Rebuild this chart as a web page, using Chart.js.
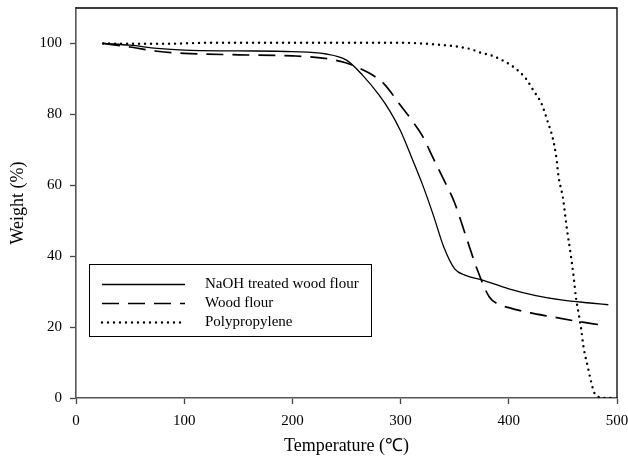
<!DOCTYPE html>
<html>
<head>
<meta charset="utf-8">
<script src="https://cdn.jsdelivr.net/npm/chart.js@4/dist/chart.umd.min.js"></script>
<style>
  html, body { margin: 0; padding: 0; background: #fff; }
  #c { display: block; }
</style>
</head>
<body>
<canvas id="c" width="628" height="466"></canvas>
<script>
// ---- data ----
const seriesNames = ["NaOH treated wood flour", "Wood flour", "Polypropylene"];

const tempNaOH = [25, 50, 75, 100, 150, 200, 230, 250, 265, 280, 290, 300, 310, 320, 330, 340, 350, 360, 375, 400, 425, 450, 475, 492];
const weightNaOH = [100, 99.5, 98.6, 98.1, 97.9, 97.7, 97.1, 95.3, 91.0, 85.5, 81.0, 75.3, 68.0, 60.4, 51.8, 42.5, 36.4, 34.6, 33.3, 30.8, 28.9, 27.6, 26.8, 26.3];

const tempWood = [25, 50, 75, 100, 150, 200, 230, 250, 260, 270, 284, 300, 310, 320, 330, 340, 350, 360, 371, 382, 390, 400, 420, 440, 460, 485];
const weightWood = [100, 99.0, 97.8, 97.2, 96.8, 96.5, 95.8, 94.5, 93.3, 91.8, 88.8, 82.5, 78.5, 74.0, 67.7, 61.5, 55.0, 46.0, 36.1, 28.5, 26.5, 25.5, 24.0, 22.9, 21.8, 20.6];

const tempPP = [25, 50, 80, 125, 200, 300, 337, 355, 366, 372, 385, 395, 406, 416, 423, 430, 436, 441, 444, 446, 450, 454, 457, 460, 462, 465, 467, 469, 473, 476, 479, 483, 487, 498];
const weightPP = [100, 99.9, 99.9, 100.2, 100.2, 100.2, 99.6, 99.0, 98.3, 97.6, 96.5, 95.1, 93.0, 90.0, 86.6, 83.2, 77.9, 72.8, 67.7, 62.4, 56.5, 47.0, 41.0, 34.0, 28.5, 23.0, 19.2, 14.5, 8.8, 4.7, 1.5, 0.3, 0, 0];

const xTickValues = [0, 100, 200, 300, 400, 500];
const yTickValues = [0, 20, 40, 60, 80, 100];

const toPoints = (xs, ys) => xs.map((x, i) => ({ x: x, y: ys[i] }));

const FONT = "'Liberation Serif', 'Times New Roman', serif";

const bgPlugin = {
  id: 'bg',
  beforeDraw(chart) {
    const ctx = chart.ctx;
    ctx.save();
    ctx.fillStyle = '#ffffff';
    ctx.fillRect(0, 0, chart.width, chart.height);
    ctx.restore();
  }
};

const framePlugin = {
  id: 'frame',
  afterDatasetsDraw(chart) {
    const { ctx, chartArea: a } = chart;
    ctx.save();
    ctx.strokeStyle = '#000';
    ctx.lineWidth = 1.3;
    ctx.beginPath();
    ctx.moveTo(a.left, a.top);
    ctx.lineTo(a.right, a.top);
    ctx.lineTo(a.right, a.bottom);
    ctx.stroke();
    ctx.restore();
  }
};

const boxLegend = {
  id: 'boxLegend',
  afterDraw(chart) {
    const { ctx, chartArea: a } = chart;
    const left = a.left + 13, top = a.top + 256, w = 282, h = 72;
    ctx.save();
    ctx.fillStyle = '#fff';
    ctx.fillRect(left, top, w, h);
    ctx.strokeStyle = '#000';
    ctx.lineWidth = 1;
    ctx.strokeRect(left + 0.5, top + 0.5, w, h);
    chart.data.datasets.forEach((ds, i) => {
      const y = top + 20 + i * 19;
      ctx.save();
      ctx.strokeStyle = ds.borderColor;
      ctx.lineWidth = Math.max(ds.borderWidth, 1.4);
      ctx.lineCap = ds.borderCapStyle || 'butt';
      ctx.setLineDash(ds.borderDash || []);
      ctx.beginPath();
      ctx.moveTo(left + 13, y + 0.5);
      ctx.lineTo(left + 96, y + 0.5);
      ctx.stroke();
      ctx.restore();
      ctx.fillStyle = '#000';
      ctx.font = '15px ' + FONT;
      ctx.textBaseline = 'middle';
      ctx.textAlign = 'left';
      ctx.fillText(ds.label, left + 116, y);
    });
    ctx.restore();
  }
};

new Chart(document.getElementById('c'), {
  type: 'line',
  data: {
    datasets: [
      {
        label: seriesNames[0],
        data: toPoints(tempNaOH, weightNaOH),
        borderColor: '#000',
        borderWidth: 1.3,
        borderDash: [],
        pointRadius: 0,
        cubicInterpolationMode: 'monotone',
        fill: false
      },
      {
        label: seriesNames[1],
        data: toPoints(tempWood, weightWood),
        borderColor: '#000',
        borderWidth: 1.7,
        borderDash: [17, 9],
        pointRadius: 0,
        cubicInterpolationMode: 'monotone',
        fill: false
      },
      {
        label: seriesNames[2],
        data: toPoints(tempPP, weightPP),
        borderColor: '#000',
        borderWidth: 2.4,
        borderDash: [0, 6],
        borderCapStyle: 'round',
        pointRadius: 0,
        cubicInterpolationMode: 'monotone',
        fill: false
      }
    ]
  },
  options: {
    responsive: false,
    animation: false,
    layout: { padding: { left: 0, top: 8, right: 11, bottom: 0 } },
    plugins: {
      legend: { display: false },
      tooltip: { enabled: false }
    },
    scales: {
      x: {
        type: 'linear',
        min: 0,
        max: 500,
        afterFit(scale) {
          scale.height = 68;
          scale.paddingLeft = 0;
          scale.paddingRight = 0;
        },
        afterBuildTicks(scale) { scale.ticks = xTickValues.map(v => ({ value: v })); },
        ticks: {
          color: '#000',
          font: { family: FONT, size: 15 },
          padding: 8,
          maxRotation: 0
        },
        grid: {
          display: true,
          drawOnChartArea: false,
          drawTicks: true,
          tickLength: 6,
          tickColor: '#444',
          tickWidth: 1.3
        },
        border: { display: true, color: '#555', width: 1.6 },
        title: {
          display: true,
          text: 'Temperature (℃)',
          color: '#000',
          font: { family: FONT, size: 18 },
          padding: { top: 0, bottom: 9 }
        }
      },
      y: {
        type: 'linear',
        min: 0,
        max: 110,
        afterFit(scale) {
          scale.width = 76;
          scale.paddingTop = 0;
          scale.paddingBottom = 0;
        },
        afterBuildTicks(scale) { scale.ticks = yTickValues.map(v => ({ value: v })); },
        ticks: {
          color: '#000',
          font: { family: FONT, size: 15 },
          padding: 8
        },
        grid: {
          display: true,
          drawOnChartArea: false,
          drawTicks: true,
          tickLength: 6,
          tickColor: '#444',
          tickWidth: 1.3
        },
        border: { display: true, color: '#555', width: 1.6 },
        title: {
          display: true,
          text: 'Weight (%)',
          color: '#000',
          font: { family: FONT, size: 18 },
          padding: { top: 7, bottom: 0 }
        }
      }
    }
  },
  plugins: [bgPlugin, framePlugin, boxLegend]
});
</script>
</body>
</html>
